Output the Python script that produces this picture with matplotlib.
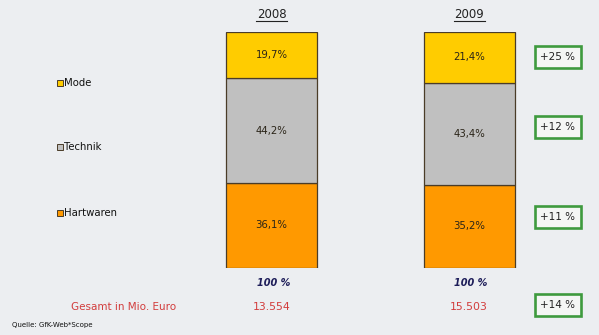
import matplotlib
matplotlib.use("Agg")
import matplotlib.pyplot as plt
from matplotlib.lines import Line2D

years = ["2008", "2009"]
segments = ["Hartwaren", "Technik", "Mode"]
shares = {
    "Hartwaren": [36.1, 35.2],
    "Technik": [44.2, 43.4],
    "Mode": [19.7, 21.4],
}
growth = {"Mode": "+25 %", "Technik": "+12 %", "Hartwaren": "+11 %"}
totals = ["13.554", "15.503"]
total_growth = "+14 %"

colors = {"Hartwaren": "#FF9900", "Technik": "#C0C0C0", "Mode": "#FFCC00"}
bg = "#ECEEF1"

W, H = 599, 335
fig = plt.figure(figsize=(W / 100, H / 100), dpi=100, facecolor=bg)
# bars: centres at x=271.5 / 469 px, top 32 px, bottom 268 px
sp = 197.5
ax = fig.add_axes([0, (H - 268) / H, 1, (268 - 32) / H])
ax.set_facecolor(bg)
ax.set_xlim(-271.5 / sp, (W - 271.5) / sp)
ax.set_ylim(0, 100)
ax.axis("off")

xs = range(len(years))
bottom = [0, 0]
for seg in segments:
    vals = shares[seg]
    ax.bar(xs, vals, bottom=bottom, width=91 / sp, color=colors[seg],
           edgecolor="#4a3c28", linewidth=0.9)
    for i, v in enumerate(vals):
        ax.text(i, bottom[i] + v / 2, f"{v:.1f}%".replace(".", ","),
                ha="center", va="center", fontsize=7.3, color="#2a2418")
    bottom = [b + v for b, v in zip(bottom, vals)]

# growth boxes next to the 2009 bar, at segment mid-heights
box = dict(boxstyle="square,pad=0.55", facecolor="#F4F6F4",
           edgecolor="#3E9A3E", linewidth=1.9)
gpos = {"Mode": 57, "Technik": 127, "Hartwaren": 217}
for seg in segments:
    fig.text(558 / W, 1 - gpos[seg] / H, growth[seg], ha="center", va="center",
             fontsize=7.5, color="#222222", bbox=box)
fig.text(558 / W, 1 - 305 / H, total_growth, ha="center", va="center",
         fontsize=7.5, color="#222222", bbox=box)

# year headers (underlined)
for i, y in enumerate(years):
    xp = 271.5 + i * sp
    fig.text(xp / W, 1 - 14 / H, y, ha="center", va="center", fontsize=8.5,
             color="#222222")
    fig.add_artist(Line2D([(xp - 15.5) / W, (xp + 15.5) / W],
                          [1 - 20.5 / H, 1 - 20.5 / H], color="#222222", lw=0.8))
    fig.text((xp + 2) / W, 1 - 283 / H, "100 %", ha="center", va="center",
             fontsize=7, style="italic", fontweight="bold", color="#1E1E5A")
    fig.text(xp / W, 1 - 307 / H, totals[i], ha="center", va="center",
             fontsize=7.8, color="#D23C3C")

fig.text(124 / W, 1 - 307 / H, "Gesamt in Mio. Euro", ha="center",
         va="center", fontsize=7.5, color="#D23C3C")

# legend
lpos = {"Mode": 83, "Technik": 147, "Hartwaren": 213}
for seg in ["Mode", "Technik", "Hartwaren"]:
    yy = 1 - lpos[seg] / H
    fig.add_artist(Line2D([59.5 / W], [yy], marker="s", markersize=4.5,
                          markerfacecolor=colors[seg], markeredgecolor="#4a3c28",
                          markeredgewidth=0.7, linestyle="none"))
    fig.text(64 / W, yy, seg, ha="left", va="center", fontsize=7.3,
             color="#111111")

fig.text(12 / W, 1 - 325 / H, "Quelle: GfK-Web*Scope", ha="left", va="center",
         fontsize=5, color="#111111")

fig.savefig("out.png", dpi=100, facecolor=bg)
